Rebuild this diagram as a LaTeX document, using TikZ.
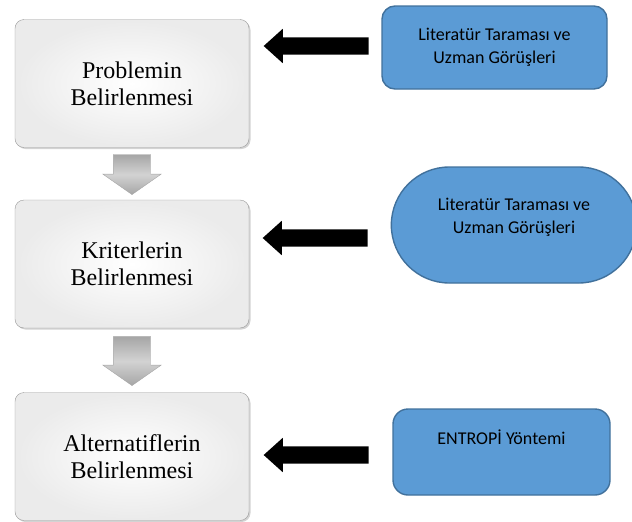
\documentclass[tikz,border=0pt]{standalone}
\usepackage{fontspec}
\setmainfont{Liberation Serif}
\newfontfamily\calibrifont{Carlito}
\usepackage{tikz}
\usetikzlibrary{arrows.meta,positioning,shapes,shadows,calc}

\definecolor{boxblue}{HTML}{5B9BD5}
\definecolor{boxedge}{HTML}{41719C}

\begin{document}
\begin{tikzpicture}[x=1pt,y=-1pt]
  % Styles
  \tikzstyle{stage}=[draw=gray!80,rounded corners=9pt,minimum width=234pt,minimum height=128pt,align=center,inner color=white,outer color=gray!16,drop shadow={opacity=0.35,shadow xshift=1.5pt,shadow yshift=-1.5pt},font=\fontsize{24}{27}\selectfont]
  \tikzstyle{source}=[draw=boxedge,line width=1.4pt,fill=boxblue,align=center,font=\calibrifont\fontsize{18}{23}\selectfont]
  \tikzstyle{downarrow}=[single arrow,rotate=-90,draw=gray!70,top color=gray!70,bottom color=gray!70,middle color=gray!35,inner xsep=0pt,inner ysep=18.5pt,single arrow tip angle=110,single arrow head extend=10.5pt,single arrow head indent=0pt]
  \tikzstyle{leftarrow}=[single arrow,rotate=180,fill=black,inner xsep=0pt,inner ysep=8.5pt,single arrow tip angle=84,single arrow head extend=8.5pt,single arrow head indent=0pt,minimum height=105pt]

  \clip (0,0) rectangle (632,522);

  % Steps
  \node[stage] (prob) at (132,83.5) {Problemin\\Belirlenmesi};
  \node[stage] (krit) at (132,264) {Kriterlerin\\Belirlenmesi};
  \node[stage] (alt) at (132,456.5) {Alternatiflerin\\Belirlenmesi};

  % Gray arrows between steps
  \node[downarrow,minimum height=40pt] (d1) at (132,168) {};
  \node[downarrow,minimum height=49pt] (d2) at (132,354.5) {};

  % Sources
  \node[source,rounded corners=13pt,minimum width=225pt,minimum height=83pt] (lit1) at (494.5,47.5) {Literatür Taraması ve\\Uzman Görüşleri};
  \node[source,rounded rectangle,minimum width=252pt,minimum height=116pt,
        label={[source,draw=none,fill=none,yshift=8pt]center:Literatür Taraması ve\\Uzman Görüşleri}] (lit2) at (514,225) {};
  \node[source,rounded corners=15pt,minimum width=217pt,minimum height=86pt,
        label={[source,draw=none,fill=none,yshift=15pt]center:ENTROPİ Yöntemi}] (entropi) at (501.5,452) {};

  % Black arrows
  \node[leftarrow] (a1) at (321,46) {};
  \node[leftarrow] (a2) at (320,238) {};
  \node[leftarrow] (a3) at (321,455) {};
\end{tikzpicture}
\end{document}
